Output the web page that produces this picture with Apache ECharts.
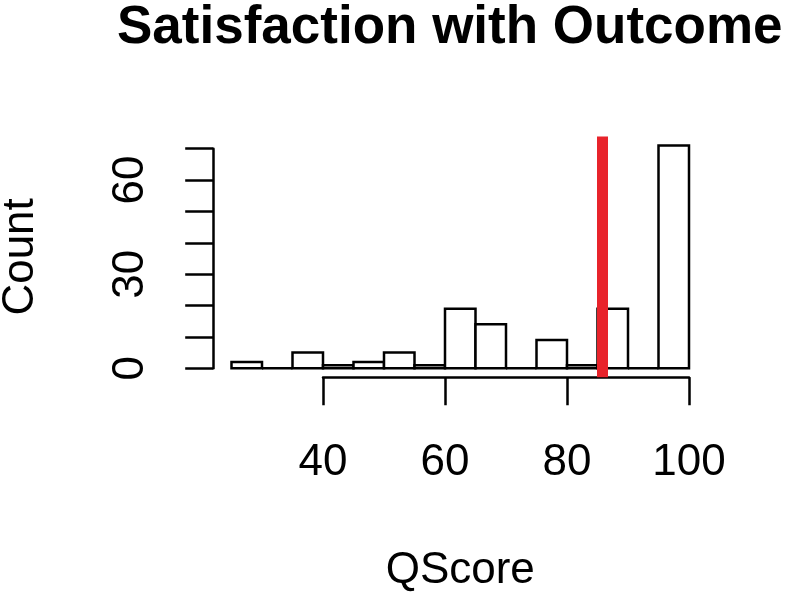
<!DOCTYPE html>
<html>
<head>
<meta charset="utf-8">
<script src="https://cdn.jsdelivr.net/npm/echarts@6/dist/echarts.min.js"></script>
<style>
html,body{margin:0;padding:0;background:#fff;}
#chart{width:800px;height:592px;}
</style>
</head>
<body>
<div id="chart"></div>
<script>
// ---- data ----
const binStarts = [25, 30, 35, 40, 45, 50, 55, 60, 65, 70, 75, 80, 85, 90, 95];
const binWidth = 5;
const counts = [2, 0, 5, 1, 2, 5, 1, 19, 14, 0, 9, 1, 19, 0, 71];
const meanLine = 85.8;
const xTicks = [40, 60, 80, 100];
const yTickLabels = [0, 30, 60];
const titleText = 'Satisfaction with Outcome';
const xName = 'QScore';
const yName = 'Count';

// R-style plot region extents (4% padding)
const xLo = binStarts[0], xHi = binStarts[binStarts.length - 1] + binWidth;
const yHiData = Math.max(...counts);
const xPad = (xHi - xLo) * 0.04, yPad = yHiData * 0.04;

const FONT = '"Liberation Sans", Arial, Helvetica, sans-serif';
const chart = echarts.init(document.getElementById('chart'), null, {renderer: 'canvas'});

// pixel geometry of the plot region
const plotLeft = 213.2, plotWidth = 494.1, plotTop = 136.6, plotHeight = 240.6;
const pxPerX = plotWidth / ((xHi + xPad) - (xLo - xPad));
const pxPerY = plotHeight / ((yHiData + yPad) - (-yPad));
const zeroY = plotTop + (yHiData + yPad) * pxPerY;

const barData = binStarts.map((b, i) => [b, b + binWidth, counts[i]]);

const option = {
  backgroundColor: '#fff',
  animation: false,
  title: {
    text: titleText,
    left: 112, top: -3,
    textStyle: {fontFamily: FONT, fontWeight: 'bold', fontSize: 53, color: '#000'}
  },
  grid: [
    // main plot region
    {left: plotLeft, width: plotWidth, top: plotTop, height: plotHeight, outerBoundsMode: 'none'},
    // x-axis (40..100) positioned below plot
    {left: plotLeft + (xTicks[0] - (xLo - xPad)) * pxPerX,
     width: (xTicks[xTicks.length - 1] - xTicks[0]) * pxPerX,
     top: plotTop, height: plotHeight, outerBoundsMode: 'none'},
    // y-axis (0..70)
    {left: plotLeft, width: plotWidth,
     top: zeroY - 70 * pxPerY, height: 70 * pxPerY, outerBoundsMode: 'none'}
  ],
  xAxis: [
    {gridIndex: 0, type: 'value', min: xLo - xPad, max: xHi + xPad,
     axisLine: {show: false}, axisTick: {show: false}, axisLabel: {show: false}, splitLine: {show: false},
     name: xName, nameLocation: 'middle', nameGap: 172,
     nameTextStyle: {fontFamily: FONT, fontSize: 44, color: '#000'}},
    {gridIndex: 1, type: 'value', min: xTicks[0], max: xTicks[xTicks.length - 1], interval: 20,
     axisLine: {show: true, lineStyle: {color: '#000', width: 2.5}},
     axisTick: {show: true, length: 28, lineStyle: {color: '#000', width: 2.5}},
     axisLabel: {show: true, margin: 64, fontFamily: FONT, fontSize: 44, color: '#000'},
     splitLine: {show: false}},
    {gridIndex: 2, type: 'value', show: false}
  ],
  yAxis: [
    {gridIndex: 0, type: 'value', min: -yPad, max: yHiData + yPad,
     axisLine: {show: false}, axisTick: {show: false}, axisLabel: {show: false}, splitLine: {show: false},
     name: yName, nameLocation: 'middle', nameGap: 170, nameRotate: 90,
     nameTextStyle: {fontFamily: FONT, fontSize: 44, color: '#000'}},
    {gridIndex: 1, type: 'value', show: false},
    {gridIndex: 2, type: 'value', min: 0, max: 70, interval: 10,
     axisLine: {show: true, lineStyle: {color: '#000', width: 2.5}},
     axisTick: {show: true, length: 28, lineStyle: {color: '#000', width: 2.5}},
     axisLabel: {show: true, margin: 60, rotate: 90, fontFamily: FONT, fontSize: 44, color: '#000',
       formatter: v => (yTickLabels.indexOf(v) >= 0 ? String(v) : '')},
     splitLine: {show: false}}
  ],
  series: [
    {
      type: 'custom', xAxisIndex: 0, yAxisIndex: 0, silent: true,
      data: barData,
      encode: {x: [0, 1], y: 2},
      renderItem: function (params, api) {
        const p0 = api.coord([api.value(0), 0]);
        const p1 = api.coord([api.value(1), api.value(2)]);
        return {
          type: 'rect',
          shape: {x: p0[0], y: p1[1], width: p1[0] - p0[0], height: p0[1] - p1[1]},
          style: {fill: '#fff', stroke: '#000', lineWidth: 2.5}
        };
      },
      markLine: {
        silent: true, symbol: ['none', 'none'], animation: false,
        label: {show: false},
        lineStyle: {color: '#e8232b', width: 11, type: 'solid'},
        data: [{xAxis: meanLine}]
      },
      z: 2
    }
  ]
};
chart.setOption(option);
</script>
</body>
</html>
